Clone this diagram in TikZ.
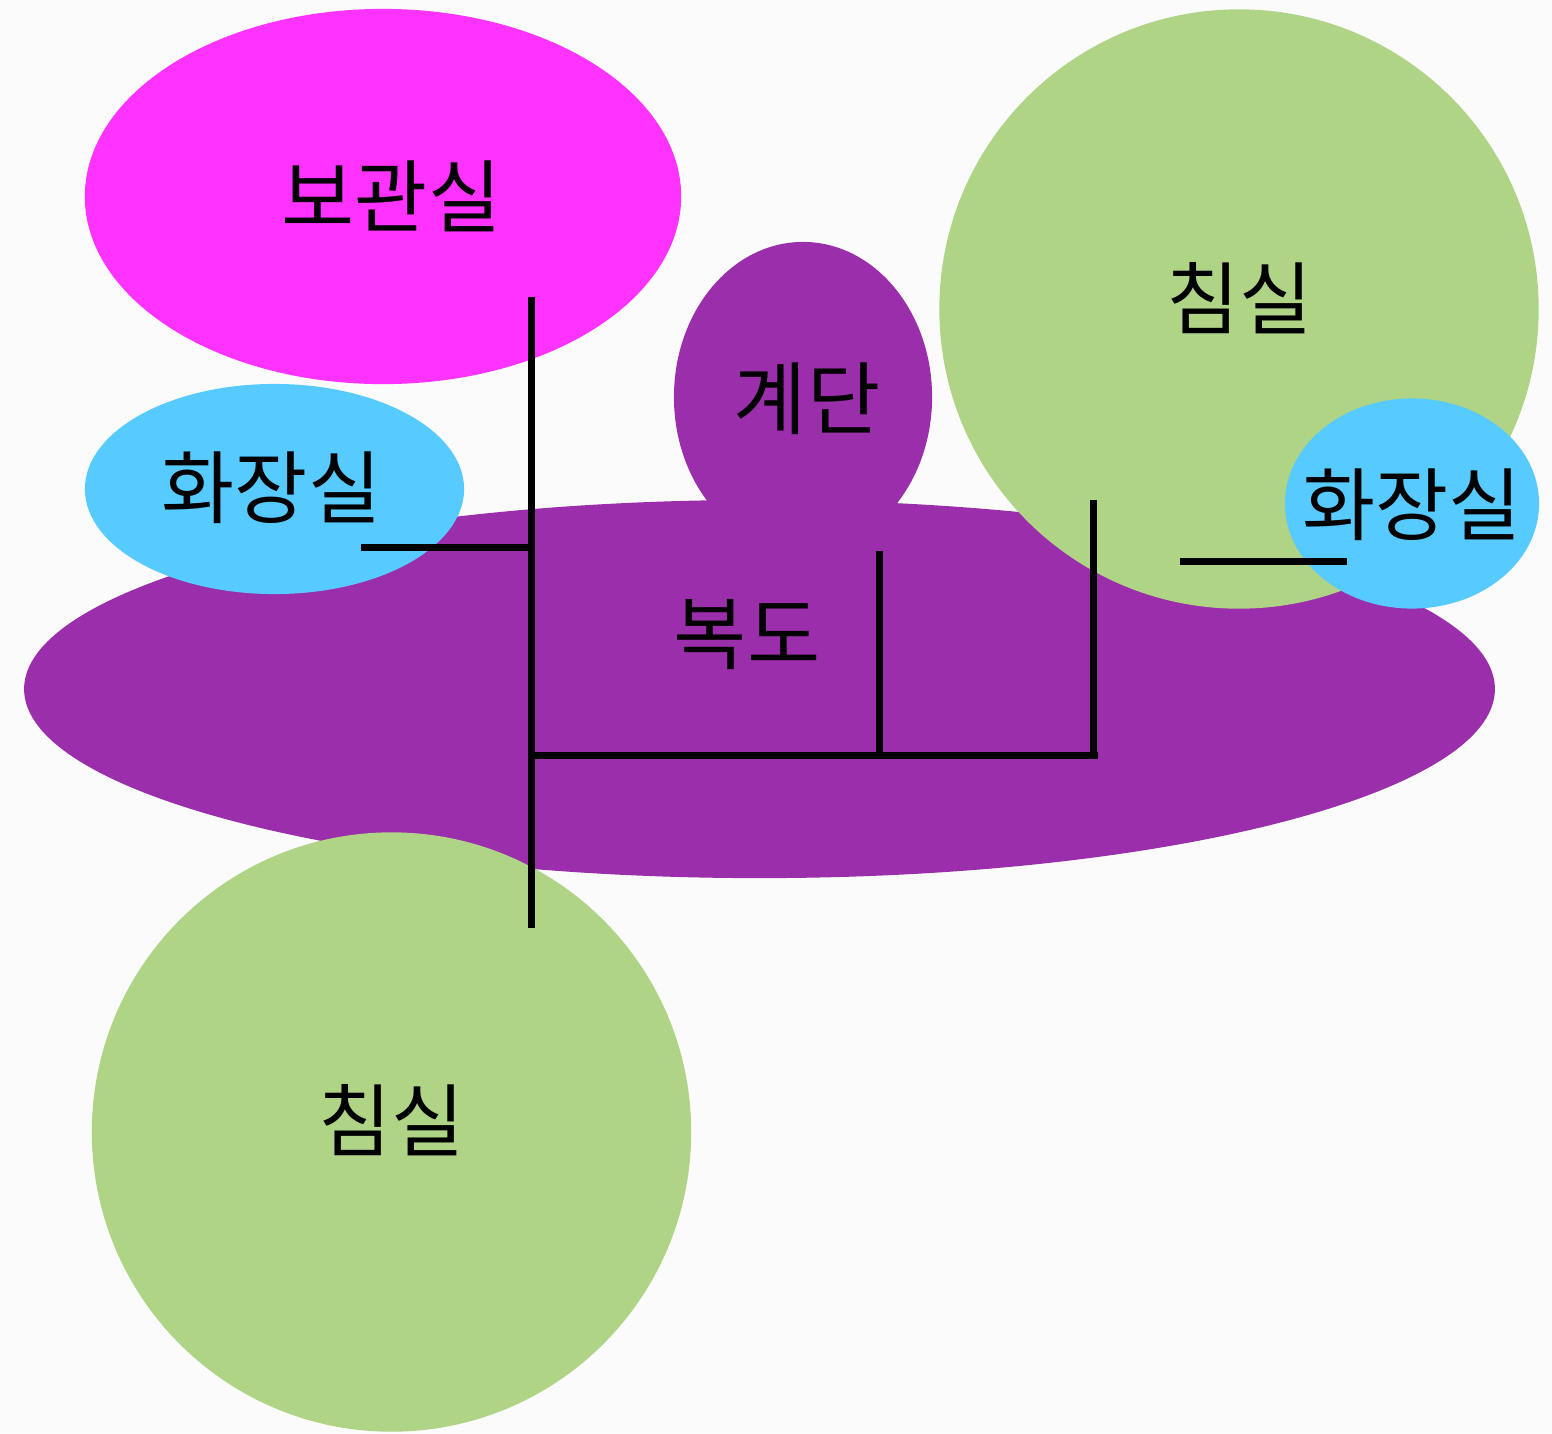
\documentclass[tikz,border=0pt]{standalone}
\usepackage{fontspec}
\setmainfont{Noto Sans CJK KR}
\usetikzlibrary{positioning,shapes.geometric}
\definecolor{pagebg}{HTML}{FBFBFB}
\definecolor{storecol}{HTML}{FF33FF}
\definecolor{bedcol}{HTML}{AFD485}
\definecolor{bathcol}{HTML}{57CAFF}
\definecolor{hallcol}{HTML}{9B2EAB}
\tikzset{
    room/.style={ellipse,inner sep=0pt,font=\fontsize{22.6}{23}\selectfont},
    wall/.style={line width=0.07cm,black}
}

\begin{document}
\begin{tikzpicture}[x=0.01cm,y=-0.01cm]
    \fill[pagebg] (0,0) rectangle (1552,1433);
    \useasboundingbox (0,0) rectangle (1552,1433);
    % rooms
    \node[room,fill=hallcol,minimum width=2.58cm,minimum height=3.1cm] (stairs) at (803,397) {};
    \node[room,fill=hallcol,minimum width=14.7cm,minimum height=3.78cm] (hall) at (759.5,689) {};
    \node[room,fill=storecol,minimum width=5.96cm,minimum height=3.75cm] (store) at (383,196.5) {};
    \node[room,fill=bedcol,minimum width=5.99cm,minimum height=5.99cm] (bedtop) at (1239,309) {};
    \node[room,fill=bedcol,minimum width=5.99cm,minimum height=5.99cm] (bedlow) at (391.5,1132) {};
    \node[room,fill=bathcol,minimum width=3.79cm,minimum height=2.1cm] (bathleft) at (274.5,489) {};
    \node[room,fill=bathcol,minimum width=2.54cm,minimum height=2.1cm] (bathright) at (1412,503.5) {};
    % labels
    \node[room] (storetxt) at (391.5,196) {보관실};
    \node[room] (bedtoptxt) at (1239.5,298) {침실};
    \node[room] (bedlowtxt) at (391.5,1120.5) {침실};
    \node[room] (bathlefttxt) at (271.5,488) {화장실};
    \node[room] (bathrighttxt) at (1412,505) {화장실};
    \node[room] (stairstxt) at (807,399) {계단};
    \node[room] (halltxt) at (747,635) {복도};
    % walls
    \coordinate (w1) at (531,297);
    \coordinate (w2) at (531,928);
    \coordinate (w3) at (361,547);
    \coordinate (w4) at (531,547);
    \coordinate (w5) at (531,755);
    \coordinate (w6) at (1098,755);
    \coordinate (w7) at (879,551);
    \coordinate (w8) at (879,755);
    \coordinate (w9) at (1093,500);
    \coordinate (w10) at (1093,755);
    \coordinate (w11) at (1180,561);
    \coordinate (w12) at (1347,561);
    \draw[wall] (w1) -- (w2);
    \draw[wall] (w3) -- (w4);
    \draw[wall] (w5) -- (w6);
    \draw[wall] (w7) -- (w8);
    \draw[wall] (w9) -- (w10);
    \draw[wall] (w11) -- (w12);
\end{tikzpicture}
\end{document}
